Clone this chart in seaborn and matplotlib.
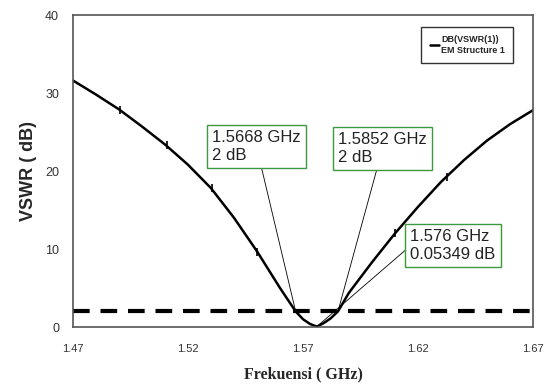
import matplotlib
matplotlib.use("Agg")
import matplotlib.pyplot as plt
import seaborn as sns
import pandas as pd

# Data
freq = [1.47, 1.48, 1.49, 1.50, 1.51, 1.52, 1.53, 1.54, 1.55, 1.56, 1.5668, 1.57,
        1.573, 1.576, 1.579, 1.582, 1.5852, 1.59, 1.60, 1.61, 1.62, 1.63, 1.64,
        1.65, 1.66, 1.67]
vswr = [31.6, 29.8, 27.9, 25.7, 23.4, 20.8, 17.8, 14.0, 9.7, 5.0, 2.0, 1.0,
        0.4, 0.05, 0.5, 1.1, 2.0, 4.4, 8.3, 12.0, 15.4, 18.6, 21.4, 23.9, 26.0, 27.8]
mk_x = [1.4904, 1.5107, 1.5303, 1.5499, 1.6102, 1.6326]
mk_y = [27.8, 23.3, 17.8, 9.65, 12.1, 19.2]
ref_level = 2
markers_info = [
    ("1.5668 GHz\n2 dB", 1.5668, 2.0, 1.5498, 23.1, (0.5, 0.5)),
    ("1.5852 GHz\n2 dB", 1.5852, 2.0, 1.6046, 22.9, (0.5, 0.5)),
    ("1.576 GHz\n0.05349 dB", 1.576, 0.05349, 1.6352, 10.4, (0.0, 0.5)),
]
xticks = [1.47, 1.52, 1.57, 1.62, 1.67]
yticks = [0, 10, 20, 30, 40]

sns.set_style("white")
plt.rcParams['font.family'] = ['Liberation Sans', 'DejaVu Sans']

fig = plt.figure(figsize=(5.44, 3.87), dpi=100)
ax = fig.add_axes([73/544, 60/387, 460/544, 312/387])

df = pd.DataFrame({"f": freq, "v": vswr})
sns.lineplot(data=df, x="f", y="v", ax=ax, color="black", lw=1.8,
             label="DB(VSWR(1))\nEM Structure 1")
ax.scatter(mk_x, mk_y, marker="|", s=30, color="black", lw=1.2, zorder=3)
ax.axhline(ref_level, color="black", lw=3, ls=(0, (4, 2.6)), zorder=2)

ax.set_xlim(1.47, 1.67)
ax.set_ylim(0, 40)
ax.set_xticks(xticks)
ax.set_xticklabels([f"{t:.2f}" for t in xticks], fontsize=8, color="#333333")
ax.set_yticks(yticks)
ax.set_yticklabels([str(t) for t in yticks], fontsize=9, color="#333333")
ax.tick_params(length=0, pad=10)
ax.tick_params(axis="x", pad=12)
for s in ax.spines.values():
    s.set_color("#555555")
    s.set_linewidth(1.2)

ax.set_ylabel("VSWR ( dB)", fontsize=13, fontweight="bold", labelpad=6)
ax.set_xlabel("Frekuensi ( GHz)", fontsize=11.5, fontweight="bold",
              family=["Liberation Serif", "DejaVu Serif"], labelpad=9)

for txt, px, py, tx, ty, rp in markers_info:
    ax.annotate(txt, xy=(px, py), xytext=(tx, ty), ha="center", va="center",
                multialignment="left", fontsize=12, linespacing=1.25,
                family=["Liberation Sans", "DejaVu Sans"], color="#222222",
                bbox=dict(boxstyle="square,pad=0.3", fc="white", ec="#3c9a3c", lw=1),
                arrowprops=dict(arrowstyle="-", color="black", lw=0.6,
                                relpos=rp, shrinkA=0, shrinkB=0),
                zorder=5)

leg = ax.legend(loc="upper right", bbox_to_anchor=(0.967, 0.975),
                prop={"weight": "bold", "size": 6.5}, handlelength=1.0,
                handletextpad=0.3, borderpad=0.9, frameon=True, fancybox=False)
leg.get_frame().set_edgecolor("black")
leg.get_frame().set_linewidth(1)

fig.savefig("out.png", dpi=100)
